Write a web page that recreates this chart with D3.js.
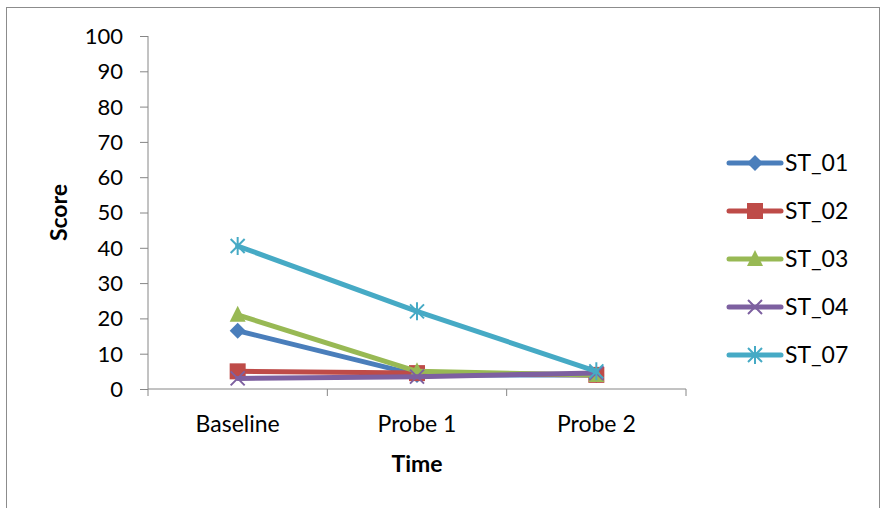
<!DOCTYPE html>
<html>
<head>
<meta charset="utf-8">
<script src="https://cdn.jsdelivr.net/npm/d3@7"></script>
<style>
  html, body { margin: 0; padding: 0; background: #fff; }
  svg { display: block; }
  text { font-family: Lato, "Open Sans", sans-serif; fill: #000; }
</style>
</head>
<body>
<svg id="chart" width="885" height="508"></svg>
<script>
// Score per participant at each time point
const categories = ["Baseline", "Probe 1", "Probe 2"];
const seriesNames = ["ST_01", "ST_02", "ST_03", "ST_04", "ST_07"];
const st01 = [16.5, 4, 4];
const st02 = [5, 4.5, 4];
const st03 = [21, 5, 4];
const st04 = [3, 3.5, 4.5];
const st07 = [40.5, 22, 5];
const yTicks = [0, 10, 20, 30, 40, 50, 60, 70, 80, 90, 100];

const seriesValues = [st01, st02, st03, st04, st07];
const colors = ["#4A7EBB", "#BE4B48", "#98B954", "#7D60A0", "#46AAC5"];
const markers = ["diamond", "square", "triangle", "x", "star"];

const svg = d3.select("#chart");

// outer chart frame
svg.append("rect")
  .attr("x", 6.5).attr("y", 7.5)
  .attr("width", 873).attr("height", 520)
  .attr("fill", "#fff").attr("stroke", "#8c8c8c").attr("stroke-width", 1);

const plot = { left: 148, right: 686, top: 36, bottom: 389 };

const x = d3.scaleBand().domain(categories).range([plot.left, plot.right]);
const y = d3.scaleLinear().domain([0, 100]).range([plot.bottom, plot.top]);

// y axis
const yAxis = svg.append("g")
  .attr("transform", `translate(${plot.left},0)`)
  .call(d3.axisLeft(y).tickValues(yTicks).tickSize(8).tickPadding(17));
yAxis.select(".domain").attr("stroke", "#868686").attr("d", `M0,${plot.top}V${plot.bottom}`);
yAxis.selectAll(".tick line").attr("stroke", "#868686");
yAxis.selectAll(".tick text").style("font-size", "22px").style("font-family", "Lato, sans-serif")
  .attr("dy", "0.34em");

// x axis
const xAxis = svg.append("g")
  .attr("transform", `translate(0,${plot.bottom})`)
  .call(d3.axisBottom(x).tickSize(0));
xAxis.select(".domain").attr("stroke", "#868686").attr("d", `M${plot.left},0H${plot.right}`);
xAxis.selectAll(".tick line").remove();
xAxis.selectAll(".tick text").style("font-size", "23px").style("font-family", "Lato, sans-serif")
  .attr("y", 43).attr("dy", 0);
// category boundary ticks
const boundaries = categories.map(c => x(c)).concat([plot.right]);
xAxis.selectAll("line.bound").data(boundaries).enter().append("line")
  .attr("class", "bound")
  .attr("x1", d => d).attr("x2", d => d)
  .attr("y1", 0).attr("y2", 7)
  .attr("stroke", "#868686");

// axis titles
svg.append("text")
  .attr("transform", `translate(67,${(plot.top + plot.bottom) / 2}) rotate(-90)`)
  .attr("text-anchor", "middle")
  .style("font-size", "23px").style("font-weight", "bold")
  .text("Score");
svg.append("text")
  .attr("x", (plot.left + plot.right) / 2).attr("y", 472)
  .attr("text-anchor", "middle")
  .style("font-size", "23px").style("font-weight", "bold")
  .text("Time");

function drawMarker(g, type, color) {
  if (type === "diamond") {
    g.append("path").attr("d", "M0,-8L8,0L0,8L-8,0Z").attr("fill", color);
  } else if (type === "square") {
    g.append("rect").attr("x", -8).attr("y", -8).attr("width", 16).attr("height", 16).attr("fill", color);
  } else if (type === "triangle") {
    g.append("path").attr("d", "M0,-9L8,7L-8,7Z").attr("fill", color);
  } else if (type === "x") {
    g.append("path").attr("d", "M-7,-7L7,7M-7,7L7,-7").attr("stroke", color).attr("stroke-width", 2).attr("fill", "none");
  } else if (type === "star") {
    g.append("path").attr("d", "M-7,-7L7,7M-7,7L7,-7M0,-9V9").attr("stroke", color).attr("stroke-width", 2).attr("fill", "none");
  }
}

const line = d3.line()
  .x((d, i) => x(categories[i]) + x.bandwidth() / 2)
  .y(d => y(d));

seriesValues.forEach((vals, s) => {
  const g = svg.append("g");
  g.append("path")
    .attr("d", line(vals))
    .attr("fill", "none")
    .attr("stroke", colors[s])
    .attr("stroke-width", 5)
    .attr("stroke-linejoin", "round")
    .attr("stroke-linecap", "round");
  vals.forEach((v, i) => {
    const m = g.append("g")
      .attr("transform", `translate(${x(categories[i]) + x.bandwidth() / 2},${y(v)})`);
    drawMarker(m, markers[s], colors[s]);
  });
});

// legend
const legend = svg.append("g");
seriesNames.forEach((name, s) => {
  const ly = 163 + s * 48;
  const row = legend.append("g").attr("transform", `translate(0,${ly})`);
  row.append("line")
    .attr("x1", 729).attr("x2", 781).attr("y1", 0).attr("y2", 0)
    .attr("stroke", colors[s]).attr("stroke-width", 5).attr("stroke-linecap", "round");
  const m = row.append("g").attr("transform", "translate(755,0)");
  drawMarker(m, markers[s], colors[s]);
  row.append("text")
    .attr("x", 785).attr("y", 8)
    .style("font-size", "23px")
    .text(name);
});
</script>
</body>
</html>
